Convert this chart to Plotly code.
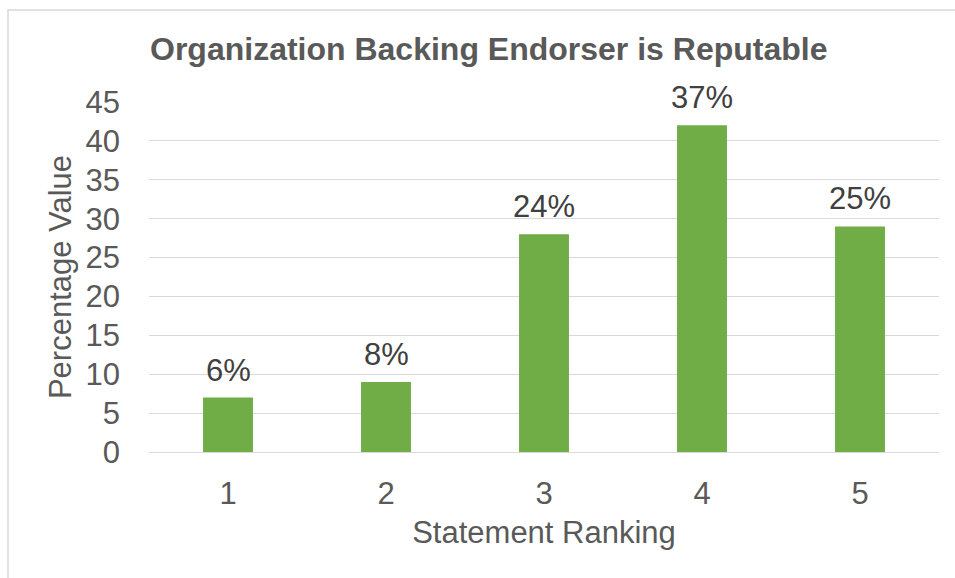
import plotly.graph_objects as go

# Responses per statement ranking
rankings = [1, 2, 3, 4, 5]
counts = [7, 9, 28, 42, 29]
y_ticks = [0, 5, 10, 15, 20, 25, 30, 35, 40, 45]

total = sum(counts)
pct_labels = [f"{round(c / total * 100)}%" for c in counts]

FONT = "Liberation Sans, Arial, sans-serif"
GRAY = "#595959"
GRID = "#d9d9d9"

fig = go.Figure()
fig.add_trace(go.Bar(
    x=rankings,
    y=counts,
    width=0.316,
    marker=dict(color="#70AD47", line=dict(width=0)),
    hoverinfo="skip",
))

# percentage labels above each bar
for r, c, lab in zip(rankings, counts, pct_labels):
    fig.add_annotation(
        x=r, y=c, text=lab, showarrow=False,
        xref="x", yref="y",
        yanchor="bottom", yshift=8,
        font=dict(family=FONT, size=31, color="#404040"),
    )

# light frame around the chart
fig.add_shape(
    type="rect", xref="paper", yref="paper",
    x0=(8 - 149) / 790, x1=1.2, y0=-0.5, y1=(452 - 10) / 350,
    line=dict(color=GRID, width=1.5), fillcolor="rgba(0,0,0,0)", layer="below",
)

fig.update_layout(
    width=955, height=578,
    margin=dict(l=149, r=16, t=102, b=126),
    paper_bgcolor="white", plot_bgcolor="white",
    showlegend=False,
    title=dict(
        text="<b>Organization Backing Endorser is Reputable</b>",
        xref="container", yref="container",
        x=150 / 955, xanchor="left",
        y=1 - 49 / 578, yanchor="middle",
        font=dict(family=FONT, size=32, color=GRAY),
    ),
    font=dict(family=FONT, size=31, color=GRAY),
)

fig.update_yaxes(
    range=[0, 45], tickvals=y_ticks,
    showgrid=True, gridcolor=GRID, gridwidth=1.3,
    zeroline=False, showline=False,
    ticklabelstandoff=28,
    tickfont=dict(family=FONT, size=31, color=GRAY),
    title=dict(text="Percentage Value", standoff=4,
               font=dict(family=FONT, size=31, color=GRAY)),
)
fig.update_xaxes(
    type="linear", range=[0.5, 5.5], tickvals=rankings,
    showline=True, linecolor=GRID, linewidth=1.3,
    showgrid=False, zeroline=False,
    ticklabelstandoff=14,
    tickfont=dict(family=FONT, size=31, color=GRAY),
    title=dict(text="Statement Ranking", standoff=10,
               font=dict(family=FONT, size=31, color=GRAY)),
)

fig.write_html("out.html")
